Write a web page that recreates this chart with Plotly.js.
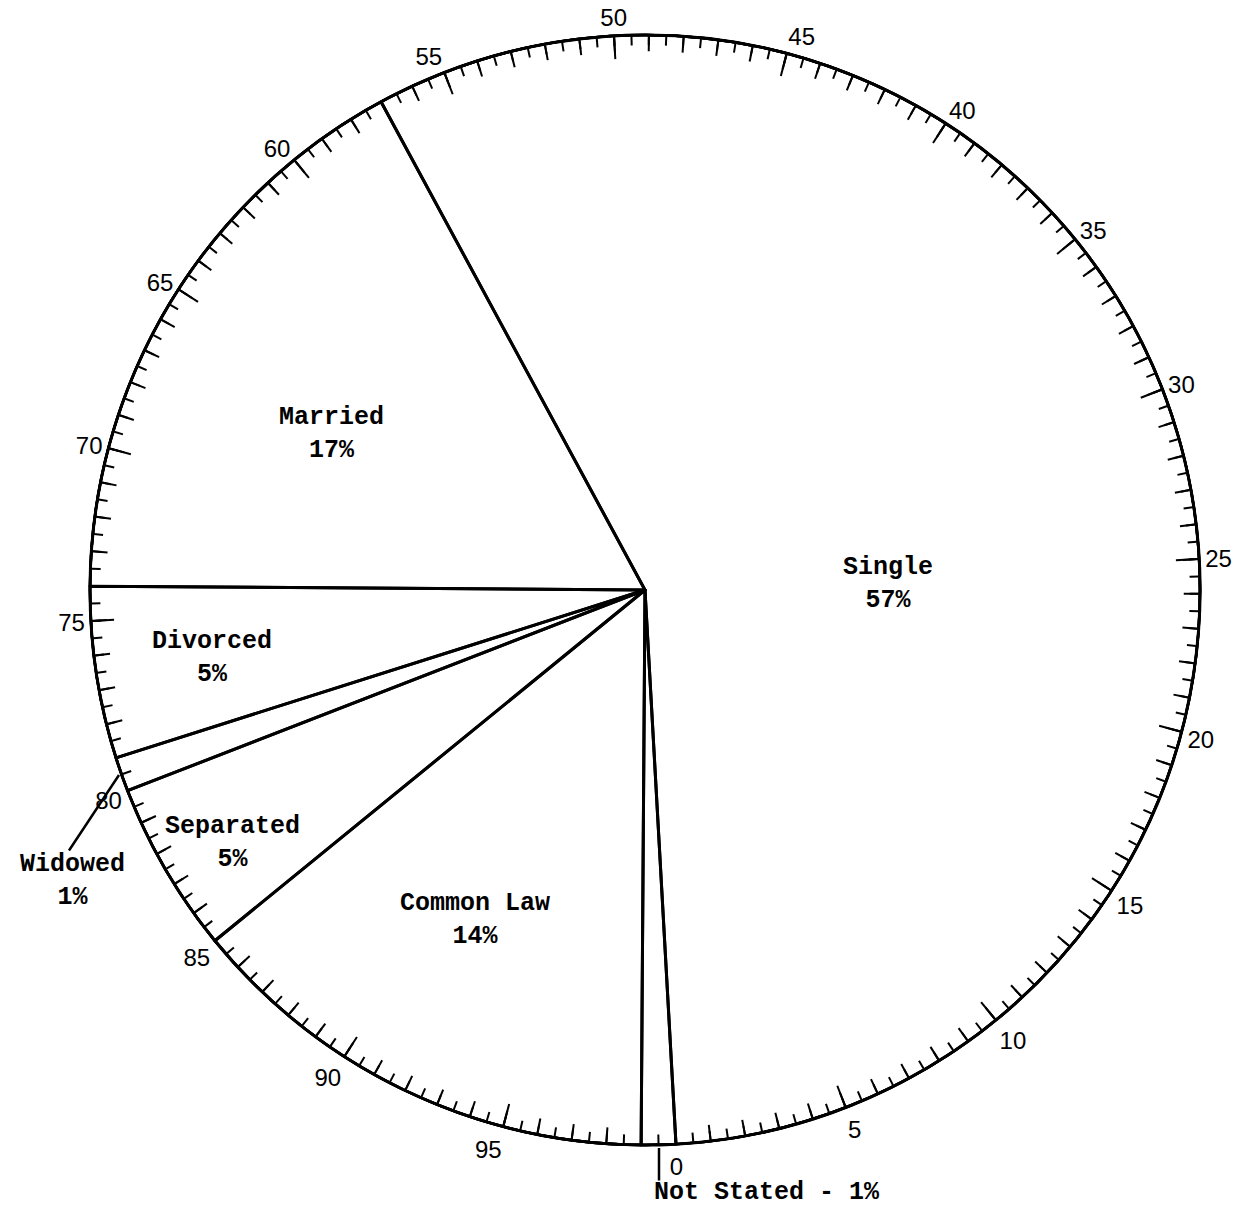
<!DOCTYPE html>
<html>
<head>
<meta charset="utf-8">
<script src="https://cdn.plot.ly/plotly-3.0.1.min.js"></script>
<style>
  html, body { margin: 0; padding: 0; background: #ffffff; }
  #chart { width: 1237px; height: 1210px; }
</style>
</head>
<body>
<div id="chart"></div>
<script>
// ---- data (in scale order, counter-clockwise from the scale's 0 mark) ----
const categories = ['Single', 'Married', 'Divorced', 'Widowed', 'Separated', 'Common Law', 'Not Stated'];
const percents   = [57, 17, 5, 1, 5, 14, 1];

// ---- scale ring labels (0..100 scale around the circle) ----
const scaleLabels = ['0','5','10','15','20','25','30','35','40','45','50','55','60','65','70','75','80','85','90','95'];
const scaleMax = 100;

// ---- layout constants ----
const W = 1237, H = 1210;
const CX = 645, CY = 590, R = 555;       // circle centre / radius in pixels
const SCALE_OFFSET = 3.2;                // scale 0 lies 3.2 deg counter-clockwise from 6 o'clock
const degPerUnit = 360 / scaleMax;

const px = x => x / W;
const py = y => 1 - y / H;
const domain = { x: [px(CX - R), px(CX + R)], y: [py(CY + R), py(CY - R)] };

// ---- tick positions on the ring ----
const majorVals = scaleLabels.map(s => Number(s) * degPerUnit);
const unitVals = [], halfVals = [];
for (let v = 0; v < scaleMax; v += 1) unitVals.push(v * degPerUnit);
for (let v = 0; v < scaleMax; v += 0.5) halfVals.push(v * degPerUnit);

function ring(tickvals, ticktext, len, showLabels) {
  return {
    domain: domain,
    bgcolor: 'rgba(0,0,0,0)',
    radialaxis: { visible: false, range: [0, 1] },
    angularaxis: {
      type: 'linear',
      thetaunit: 'degrees',
      direction: 'counterclockwise',
      rotation: -90 + SCALE_OFFSET,
      tickmode: 'array',
      tickvals: tickvals,
      ticktext: ticktext,
      showticklabels: showLabels,
      ticks: 'inside',
      ticklen: len,
      tickwidth: 2,
      tickcolor: '#000',
      showline: true,
      linecolor: '#000',
      linewidth: 2.5,
      showgrid: false,
      tickfont: { family: 'Liberation Sans, Arial, sans-serif', size: 24, color: '#000' }
    }
  };
}

function dummy(sub) {
  return { type: 'scatterpolar', subplot: sub, r: [0], theta: [0], mode: 'markers',
           marker: { size: 1, opacity: 0 }, hoverinfo: 'skip', showlegend: false };
}

// pie drawn clockwise, so reverse the scale order
const pieLabels = categories.slice().reverse();
const pieValues = percents.slice().reverse();

const traces = [
  dummy('polar'), dummy('polar2'), dummy('polar3'),
  {
    type: 'pie',
    labels: pieLabels,
    values: pieValues,
    sort: false,
    direction: 'clockwise',
    rotation: 180 - SCALE_OFFSET,
    domain: domain,
    textinfo: 'none',
    hoverinfo: 'none',
    showlegend: false,
    marker: {
      colors: pieLabels.map(() => 'rgba(255,255,255,0)'),
      line: { color: '#000', width: 3 }
    }
  }
];

// ---- slice label positions (pixel centres) ----
const labelPos = {
  'Single':     [888, 584],
  'Married':    [331, 434],
  'Divorced':   [212, 658],
  'Widowed':    [72, 881],
  'Separated':  [232, 843],
  'Common Law': [475, 920]
};
const labelFont = { family: 'Liberation Mono, Courier New, monospace', size: 25, color: '#000', weight: 'bold' };

const annotations = [];
categories.forEach((c, i) => {
  if (c === 'Not Stated') {
    annotations.push({
      xref: 'paper', yref: 'paper', x: px(767), y: py(1192),
      xanchor: 'center', yanchor: 'middle', showarrow: false,
      text: c + ' - ' + percents[i] + '%', font: labelFont
    });
    return;
  }
  const p = labelPos[c];
  annotations.push({
    xref: 'paper', yref: 'paper', x: px(p[0]), y: py(p[1]),
    xanchor: 'center', yanchor: 'middle', align: 'center', showarrow: false,
    text: c + '<br>' + percents[i] + '%', font: labelFont
  });
});
// leader lines
annotations.push({
  xref: 'paper', yref: 'paper', x: px(119), y: py(775), text: '',
  showarrow: true, arrowhead: 0, arrowwidth: 2.5, arrowcolor: '#000', standoff: 0,
  ax: -51, ay: 77
});
annotations.push({
  xref: 'paper', yref: 'paper', x: px(659), y: py(1148), text: '',
  showarrow: true, arrowhead: 0, arrowwidth: 2.5, arrowcolor: '#000', standoff: 0,
  ax: 0, ay: 34
});

const layout = {
  width: W, height: H,
  margin: { l: 0, r: 0, t: 0, b: 0 },
  paper_bgcolor: '#ffffff',
  plot_bgcolor: '#ffffff',
  showlegend: false,
  polar:  ring(majorVals, scaleLabels, 22, true),
  polar2: ring(unitVals, unitVals.map(() => ''), 15, false),
  polar3: ring(halfVals, halfVals.map(() => ''), 9, false),
  annotations: annotations
};

Plotly.newPlot('chart', traces, layout, { staticPlot: true });
</script>
</body>
</html>
